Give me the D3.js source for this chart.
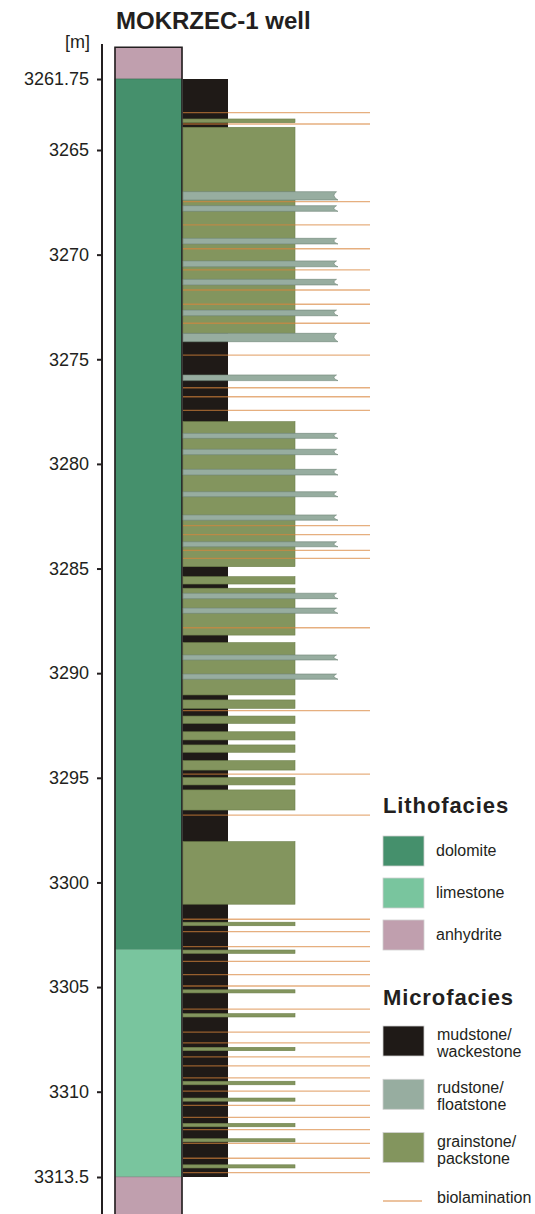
<!DOCTYPE html>
<html>
<head>
<meta charset="utf-8">
<script src="https://cdn.jsdelivr.net/npm/d3@7/dist/d3.min.js"></script>
<style>
  html, body { margin: 0; padding: 0; background: #fff; }
  svg { display: block; font-family: "Liberation Sans", Arial, sans-serif; }
</style>
</head>
<body>
<svg id="chart" width="535" height="1214"></svg>
<script>
// ---- depth ticks (m) ----
const depthTicks = [3261.75, 3265, 3270, 3275, 3280, 3285, 3290, 3295, 3300, 3305, 3310, 3313.5];

// ---- lithofacies column: [top, base, type] ----
const lithoTop    = [3260.3, 3261.75, 3303.2, 3313.5];
const lithoBase   = [3261.75, 3303.2, 3313.5, 3316.0];
const lithoType   = ["anhydrite", "dolomite", "limestone", "anhydrite"];

// ---- microfacies ----
const mudstoneInterval = [3261.75, 3313.5];

const grainTop  = [3263.58, 3263.96, 3277.98, 3285.39, 3285.94, 3288.54, 3291.28, 3292.05, 3292.80, 3293.43,
                   3294.18, 3294.99, 3295.58, 3298.05, 3301.90, 3303.23, 3305.13, 3306.27, 3307.88, 3309.50,
                   3310.26, 3311.30, 3311.93, 3313.00];
const grainBase = [3263.75, 3273.76, 3284.91, 3285.74, 3288.18, 3291.04, 3291.68, 3292.40, 3293.19, 3293.78,
                   3294.63, 3295.34, 3296.54, 3301.04, 3302.07, 3303.39, 3305.28, 3306.43, 3308.04, 3309.67,
                   3310.39, 3311.44, 3312.06, 3313.13];

const rudTop  = [3266.99, 3267.66, 3269.22, 3270.30, 3271.18, 3272.65, 3273.76, 3275.75, 3278.54, 3279.30,
                 3280.26, 3281.33, 3282.44, 3283.72, 3286.18, 3286.89, 3289.13, 3290.04];
const rudBase = [3267.39, 3267.93, 3269.49, 3270.58, 3271.45, 3272.92, 3274.16, 3276.02, 3278.78, 3279.56,
                 3280.53, 3281.57, 3282.69, 3283.96, 3286.44, 3287.14, 3289.37, 3290.29];

const biolamination = [3263.29, 3263.81, 3267.47, 3268.58, 3269.72, 3270.73, 3271.69, 3272.37, 3273.28, 3274.80,
                       3276.36, 3276.79, 3277.44, 3282.95, 3283.38, 3284.13, 3284.51, 3287.83, 3291.79, 3294.82,
                       3296.78, 3301.76, 3302.35, 3303.07, 3303.77, 3304.41, 3304.95, 3306.05, 3307.15, 3307.67,
                       3308.34, 3308.77, 3309.34, 3309.97, 3310.56, 3311.05, 3311.56, 3312.12, 3312.73, 3313.32];

// ---- legend ----
const lithoLegend = ["dolomite", "limestone", "anhydrite"];
const microLegend = [["mudstone/", "wackestone"], ["rudstone/", "floatstone"], ["grainstone/", "packstone"]];

// ---- colours ----
const lithoColor = { dolomite: "#45906c", limestone: "#79c59e", anhydrite: "#c09fae" };
const mudColor = "#1f1a17", rudColor = "#97ada0", grainColor = "#83955e", bioColor = "#d8843a";
const ink = "#231f20";

const svg = d3.select("#chart");

// depth scale: the log's depth track is piecewise linear between the labelled depths
const y = d3.scaleLinear()
  .domain([3261.75, 3265, 3310, 3313.5])
  .range([79, 150, 1091.7, 1177]);

// horizontal layout of the tracks
const xLith0 = 115, xLith1 = 182;
const xMud1 = 228, xGrain1 = 295, xRud1 = 338, xBio1 = 370;

// title
svg.append("text")
  .attr("x", 116).attr("y", 29)
  .attr("font-size", 24).attr("font-weight", "bold").attr("fill", ink)
  .text("MOKRZEC-1 well");

svg.append("text")
  .attr("x", 90).attr("y", 48).attr("text-anchor", "end")
  .attr("font-size", 18).attr("fill", ink)
  .text("[m]");

// depth axis
const axis = d3.axisLeft(y)
  .tickValues(depthTicks)
  .tickFormat(d => String(d))
  .tickSize(5).tickPadding(8);
const gAxis = svg.append("g").attr("transform", "translate(102,0)").call(axis);
gAxis.select(".domain").remove();
gAxis.selectAll(".tick line").attr("stroke", ink).attr("stroke-width", 2);
gAxis.selectAll(".tick text").attr("font-size", 18).attr("fill", ink)
  .attr("font-family", "'Liberation Sans', Arial, sans-serif");
svg.append("line")
  .attr("x1", 102).attr("x2", 102)
  .attr("y1", y(3260.15)).attr("y2", y(3316))
  .attr("stroke", ink).attr("stroke-width", 2);

// lithofacies track
const lith = lithoType.map((t, i) => ({ type: t, top: lithoTop[i], base: lithoBase[i] }));
svg.append("g").selectAll("rect").data(lith).join("rect")
  .attr("x", xLith0).attr("width", xLith1 - xLith0)
  .attr("y", d => y(d.top)).attr("height", d => y(d.base) - y(d.top))
  .attr("fill", d => lithoColor[d.type])
  .attr("stroke", d => d3.color(lithoColor[d.type]).darker(0.6)).attr("stroke-width", 0.6);
svg.append("path")
  .attr("d", `M${xLith0},${y(3316)}V${y(3260.3)}H${xLith1}V${y(3316)}`)
  .attr("fill", "none").attr("stroke", ink).attr("stroke-width", 1.6);

// microfacies track: mudstone/wackestone background
svg.append("rect")
  .attr("x", xLith1 + 0.8).attr("width", xMud1 - xLith1 - 0.8)
  .attr("y", y(mudstoneInterval[0])).attr("height", y(mudstoneInterval[1]) - y(mudstoneInterval[0]))
  .attr("fill", mudColor);

// grainstone/packstone beds
const grains = grainTop.map((t, i) => ({ top: t, base: grainBase[i] }));
svg.append("g").selectAll("rect").data(grains).join("rect")
  .attr("x", xLith1 + 1).attr("width", xGrain1 - xLith1 - 1)
  .attr("y", d => y(d.top)).attr("height", d => y(d.base) - y(d.top))
  .attr("fill", grainColor).attr("stroke", "#6d7f4a").attr("stroke-width", 0.6);

// rudstone/floatstone beds with a ragged right edge
const ruds = rudTop.map((t, i) => ({ top: t, base: rudBase[i] }));
svg.append("g").selectAll("path").data(ruds).join("path")
  .attr("d", d => {
    const t = y(d.top), b = y(d.base), m = (t + b) / 2, h = b - t;
    return `M${xLith1 + 1},${t}H${xRud1 - 1.5}` +
           `Q${xRud1 - 4.5},${t + h * 0.3} ${xRud1 - 4},${m}` +
           `Q${xRud1 - 3},${b - h * 0.15} ${xRud1},${b}H${xLith1 + 1}Z`;
  })
  .attr("fill", rudColor).attr("stroke", "#6f8577").attr("stroke-width", 0.6);

// biolamination
svg.append("g").selectAll("line").data(biolamination).join("line")
  .attr("x1", xLith1 + 1).attr("x2", xBio1)
  .attr("y1", d => y(d)).attr("y2", d => y(d))
  .attr("stroke", bioColor).attr("stroke-opacity", 0.65).attr("stroke-width", 1.3);

// ---- legends ----
const lx = 383;
svg.append("text").attr("x", lx).attr("y", 813)
  .attr("font-size", 22).attr("font-weight", "bold").attr("letter-spacing", 0.9)
  .attr("fill", ink).text("Lithofacies");
const gL = svg.append("g").selectAll("g").data(lithoLegend).join("g")
  .attr("transform", (d, i) => `translate(${lx},${836 + i * 42})`);
gL.append("rect").attr("width", 41).attr("height", 30)
  .attr("fill", d => lithoColor[d]).attr("stroke", "#d0d0d0").attr("stroke-width", 0.8);
gL.append("text").attr("x", 53).attr("y", 20).attr("font-size", 16).attr("fill", ink).text(d => d);

svg.append("text").attr("x", lx).attr("y", 1005)
  .attr("font-size", 22).attr("font-weight", "bold").attr("letter-spacing", 0.9)
  .attr("fill", ink).text("Microfacies");
const microColors = [mudColor, rudColor, grainColor];
const gM = svg.append("g").selectAll("g").data(microLegend).join("g")
  .attr("transform", (d, i) => `translate(${lx},${1026 + i * 53.3})`);
gM.append("rect").attr("width", 41).attr("height", 30)
  .attr("fill", (d, i) => microColors[i]).attr("stroke", "#d0d0d0").attr("stroke-width", 0.8);
gM.append("text").attr("x", 54).attr("y", 14).attr("font-size", 16).attr("fill", ink).text(d => d[0]);
gM.append("text").attr("x", 54).attr("y", 31).attr("font-size", 16).attr("fill", ink).text(d => d[1]);

svg.append("line").attr("x1", lx).attr("x2", lx + 39).attr("y1", 1201).attr("y2", 1201)
  .attr("stroke", bioColor).attr("stroke-opacity", 0.65).attr("stroke-width", 1.5);
svg.append("text").attr("x", lx + 54).attr("y", 1203).attr("font-size", 16).attr("fill", ink).text("biolamination");
</script>
</body>
</html>
